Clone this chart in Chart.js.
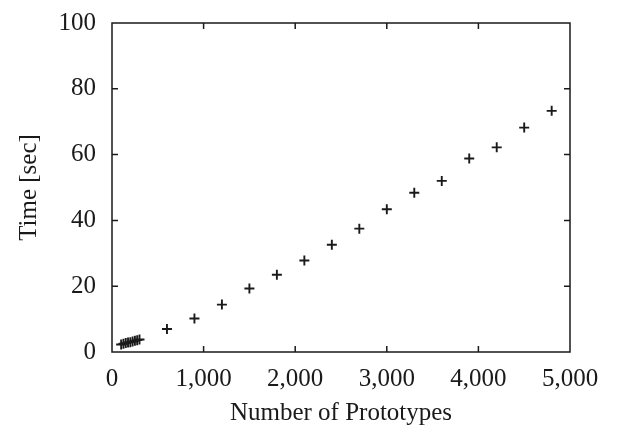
<!DOCTYPE html>
<html>
<head>
<meta charset="utf-8">
<script src="https://cdn.jsdelivr.net/npm/chart.js@4.4.1/dist/chart.umd.min.js"></script>
<style>
  html, body { margin: 0; padding: 0; background: #ffffff; }
  #wrap { width: 618px; height: 430px; position: relative; }
</style>
</head>
<body>
<div id="wrap"><canvas id="c" width="618" height="430"></canvas></div>
<script>
// ---- data ----
const prototypes = [100, 125, 150, 175, 200, 225, 250, 275, 300,
  600, 900, 1200, 1500, 1800, 2100, 2400, 2700, 3000, 3300, 3600, 3900, 4200, 4500, 4800];
const timeSec = [2.3, 2.5, 2.7, 2.9, 3.0, 3.2, 3.4, 3.6, 3.8,
  7.0, 10.2, 14.4, 19.3, 23.5, 27.8, 32.6, 37.5, 43.4, 48.4, 52.0, 58.8, 62.2, 68.2, 73.3];
const xTicks = [0, 1000, 2000, 3000, 4000, 5000];
const yTicks = [0, 20, 40, 60, 80, 100];
const xTitle = 'Number of Prototypes';
const yTitle = 'Time [sec]';

const points = prototypes.map((p, i) => ({ x: p, y: timeSec[i] }));
const INK = '#1a1a1a';
const FONT = "'Liberation Serif', 'Times New Roman', serif";

const framePlugin = {
  id: 'frame',
  afterDraw(chart) {
    const { ctx, chartArea: a, scales } = chart;
    const xs = scales.x, ys = scales.y;
    const L = 6;
    ctx.save();
    ctx.strokeStyle = INK;
    ctx.lineWidth = 1.5;
    ctx.strokeRect(a.left, a.top, a.right - a.left, a.bottom - a.top);
    ctx.beginPath();
    xTicks.slice(1, -1).forEach(v => {
      const px = xs.getPixelForValue(v);
      ctx.moveTo(px, a.bottom); ctx.lineTo(px, a.bottom - L);
      ctx.moveTo(px, a.top); ctx.lineTo(px, a.top + L);
    });
    yTicks.slice(1, -1).forEach(v => {
      const py = ys.getPixelForValue(v);
      ctx.moveTo(a.left, py); ctx.lineTo(a.left + L, py);
      ctx.moveTo(a.right, py); ctx.lineTo(a.right - L, py);
    });
    ctx.stroke();
    ctx.restore();
  }
};

new Chart(document.getElementById('c'), {
  type: 'scatter',
  data: {
    datasets: [{
      data: points,
      pointStyle: 'cross',
      pointRadius: 5,
      pointHoverRadius: 5,
      pointBorderWidth: 1.9,
      borderColor: INK,
      backgroundColor: INK,
      showLine: false
    }]
  },
  options: {
    responsive: false,
    animation: false,
    events: [],
    layout: { padding: { top: 23, right: 48, bottom: 0, left: 0 } },
    plugins: { legend: { display: false }, tooltip: { enabled: false } },
    scales: {
      x: {
        type: 'linear',
        min: 0, max: 5000,
        afterBuildTicks(scale) { scale.ticks = xTicks.map(v => ({ value: v })); },
        afterFit(scale) { scale.height = 78; },
        grid: { display: false, drawTicks: false },
        border: { display: false },
        ticks: {
          color: INK,
          padding: 12,
          maxRotation: 0,
          font: { family: FONT, size: 25 },
          callback: v => v.toLocaleString('en-US')
        },
        title: {
          display: true, text: xTitle, color: INK,
          font: { family: FONT, size: 25 },
          padding: { top: 0, bottom: 2 }
        }
      },
      y: {
        type: 'linear',
        min: 0, max: 100,
        afterBuildTicks(scale) { scale.ticks = yTicks.map(v => ({ value: v })); },
        afterFit(scale) { scale.width = 112; scale.paddingTop = 0; scale.paddingBottom = 0; },
        grid: { display: false, drawTicks: false },
        border: { display: false },
        ticks: {
          color: INK,
          padding: 16,
          font: { family: FONT, size: 25 }
        },
        title: {
          display: true, text: yTitle, color: INK,
          font: { family: FONT, size: 25 },
          padding: { top: 14, bottom: 0 }
        }
      }
    }
  },
  plugins: [framePlugin]
});
</script>
</body>
</html>
